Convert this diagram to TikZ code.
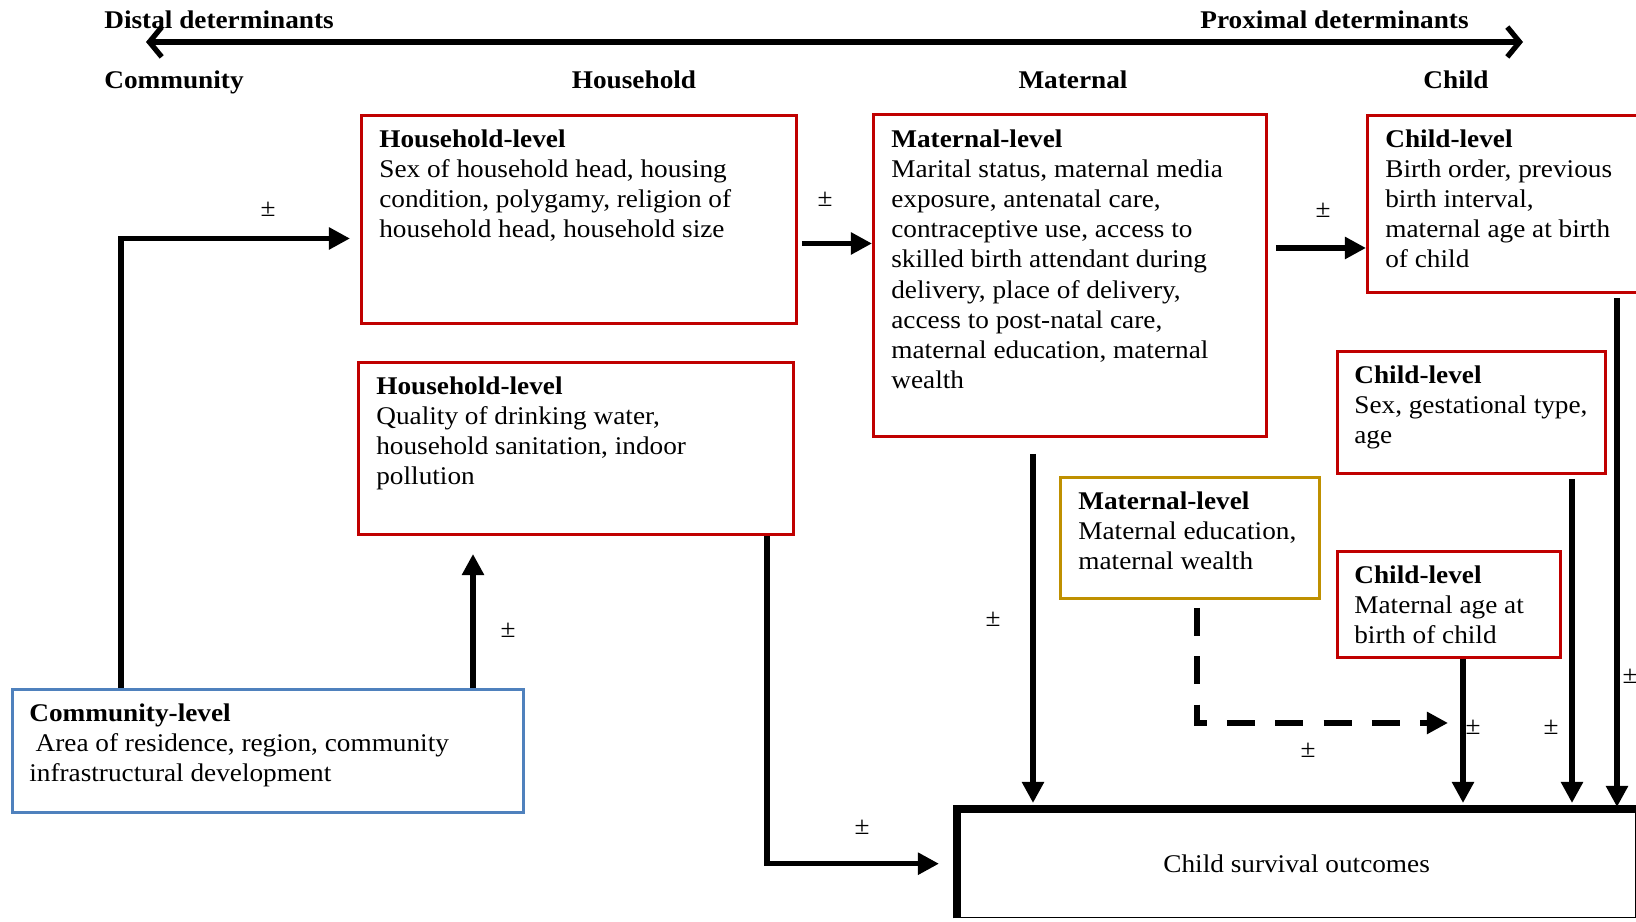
\documentclass[tikz,border=0pt]{standalone}
\usepackage{fontspec}
\setmainfont{Liberation Serif}[FakeStretch=1.07]
\usetikzlibrary{arrows.meta}
\definecolor{boxred}{HTML}{C00000}
\definecolor{boxgold}{HTML}{BF9000}
\definecolor{boxblue}{HTML}{4F81BD}
\newcommand{\boxfont}{\fontsize{14.5pt}{17.2pt}\selectfont}

\begin{document}
\begin{tikzpicture}[x=0.02cm,y=-0.02cm,font=\boxfont,
		lvlbox/.style={draw=#1,line width=1.7pt,anchor=north west,inner sep=0pt},
		lvltext/.style={anchor=north west,align=left,inner sep=0pt},
		head/.style={font=\boxfont\bfseries,inner sep=0pt},
		flow/.style={line width=3pt,-{Triangle[length=12pt,width=12pt]}},
		dflow/.style={flow,dash pattern=on 16pt off 11.5pt},
		pm/.style={inner sep=0pt}]
	\useasboundingbox (0,0) rectangle (1636,922);
	\clip (0,0) rectangle (1636,922);

	\node[head,anchor=base west] (distal) at (104,29) {Distal determinants};
	\node[head,anchor=base east] (proximal) at (1469,29) {Proximal determinants};
	\coordinate (farL) at ([shift={(42,13)}]distal.base west);
	\coordinate (farR) at ([shift={(54,13)}]proximal.base east);
	\draw[line width=3pt,{Straight Barb[length=7pt,width=17pt]}-{Straight Barb[length=7pt,width=17pt]}] (farL) -- (farR);

	\node[head,anchor=base west] (community) at (104,89) {Community};
	\node[head,anchor=base] (household) at (634,89) {Household};
	\node[head,anchor=base] (maternal) at (1073,89) {Maternal};
	\node[head,anchor=base] (child) at (1456,89) {Child};

	\node[lvlbox=boxred,minimum width=8.70cm,minimum height=4.16cm] (hh1) at (360,114) {};
	\node[lvltext] (hh1t) at ([shift={(19,15)}]hh1.north west) {\textbf{Household-level}\\Sex of household head, housing\\condition, polygamy, religion of\\household head, household size};

	\node[lvlbox=boxred,minimum width=8.70cm,minimum height=3.44cm] (hh2) at (357,361) {};
	\node[lvltext] (hh2t) at ([shift={(19,15)}]hh2.north west) {\textbf{Household-level}\\Quality of drinking water,\\household sanitation, indoor\\pollution};

	\node[lvlbox=boxred,minimum width=7.86cm,minimum height=6.44cm] (mat) at (872,113) {};
	\node[lvltext] (matt) at ([shift={(19,16)}]mat.north west) {\textbf{Maternal-level}\\Marital status, maternal media\\exposure, antenatal care,\\contraceptive use, access to\\skilled birth attendant during\\delivery, place of delivery,\\access to post-natal care,\\maternal education, maternal\\wealth};

	\node[lvlbox=boxred,minimum width=5.80cm,minimum height=3.54cm] (ch1) at (1366,114) {};
	\node[lvltext] (ch1t) at ([shift={(19,15)}]ch1.north west) {\textbf{Child-level}\\Birth order, previous\\birth interval,\\maternal age at birth\\of child};

	\node[lvlbox=boxred,minimum width=5.36cm,minimum height=2.44cm] (ch2) at (1336,350) {};
	\node[lvltext] (ch2t) at ([shift={(18,15)}]ch2.north west) {\textbf{Child-level}\\Sex, gestational type,\\age};

	\node[lvlbox=boxgold,minimum width=5.18cm,minimum height=2.42cm] (mat2) at (1059,476) {};
	\node[lvltext] (mat2t) at ([shift={(19,15)}]mat2.north west) {\textbf{Maternal-level}\\Maternal education,\\maternal wealth};

	\node[lvlbox=boxred,minimum width=4.46cm,minimum height=2.12cm] (ch3) at (1336,550) {};
	\node[lvltext] (ch3t) at ([shift={(18,15)}]ch3.north west) {\textbf{Child-level}\\Maternal age at\\birth of child};

	\node[lvlbox=boxblue,minimum width=10.22cm,minimum height=2.46cm] (com) at (11,688) {};
	\node[lvltext] (comt) at ([shift={(18,15)}]com.north west) {\textbf{Community-level}\\\hspace{0.25em}Area of residence, region, community\\infrastructural development};

	\node[draw,line width=0.8pt,anchor=north west,minimum width=13.56cm,minimum height=2.16cm] (out) at (957,809) {Child survival outcomes};
	\draw[line width=4pt] (out.south west) -- (out.north west) -- (out.north east);

	\coordinate (c1) at ([shift={(110,0)}]com.north west);
	\draw[flow,shorten >=0.2cm] (c1) |- ([shift={(0,19)}]hh1.west);
	\coordinate (c2) at ([shift={(462,0)}]com.north west);
	\draw[flow,shorten >=0.36cm] (c2) -- (c2 |- hh2.south);
	\coordinate (c3) at ([shift={(0,24)}]hh1.east);
	\draw[flow,shorten <=0.08cm] (c3) -- (c3 -| mat.west);
	\coordinate (c4) at ([shift={(0,44)}]ch1.west);
	\draw[flow,shorten <=0.16cm] (c4 -| mat.east) -- (c4);
	\coordinate (c5) at ([shift={(-28,0)}]hh2.south east);
	\draw[flow,shorten >=0.36cm] (c5) |- (out.west);
	\coordinate (c6) at ([shift={(161,16)}]mat.south west);
	\draw[flow,shorten >=0.12cm] (c6) -- (c6 |- out.north);
	\coordinate (c7) at ([shift={(138,8)}]mat2.south west);
	\coordinate (c8) at ([shift={(127,0)}]ch3.south west);
	\coordinate (dashend) at ([shift={(-15,64)}]c8);
	\draw[dflow] (c7) |- (dashend);
	\draw[flow,shorten >=0.12cm] (c8) -- (c8 |- out.north);
	\coordinate (c9) at ([shift={(236,4)}]ch2.south west);
	\draw[flow,shorten >=0.12cm] (c9) -- (c9 |- out.north);
	\coordinate (c10) at ([shift={(251,4)}]ch1.south west);
	\draw[flow,shorten >=0.04cm] (c10) -- (c10 |- out.north);

	\node[pm] (pm1) at (268,209) {±};
	\node[pm] (pm2) at (825,199) {±};
	\node[pm] (pm3) at (1323,210) {±};
	\node[pm] (pm4) at (508,630) {±};
	\node[pm] (pm5) at (993,619) {±};
	\node[pm] (pm6) at (862,827) {±};
	\node[pm] (pm7) at (1308,750) {±};
	\node[pm] (pm8) at (1473,727) {±};
	\node[pm] (pm9) at (1551,727) {±};
	\node[pm] (pm10) at (1630,676) {±};
\end{tikzpicture}
\end{document}
